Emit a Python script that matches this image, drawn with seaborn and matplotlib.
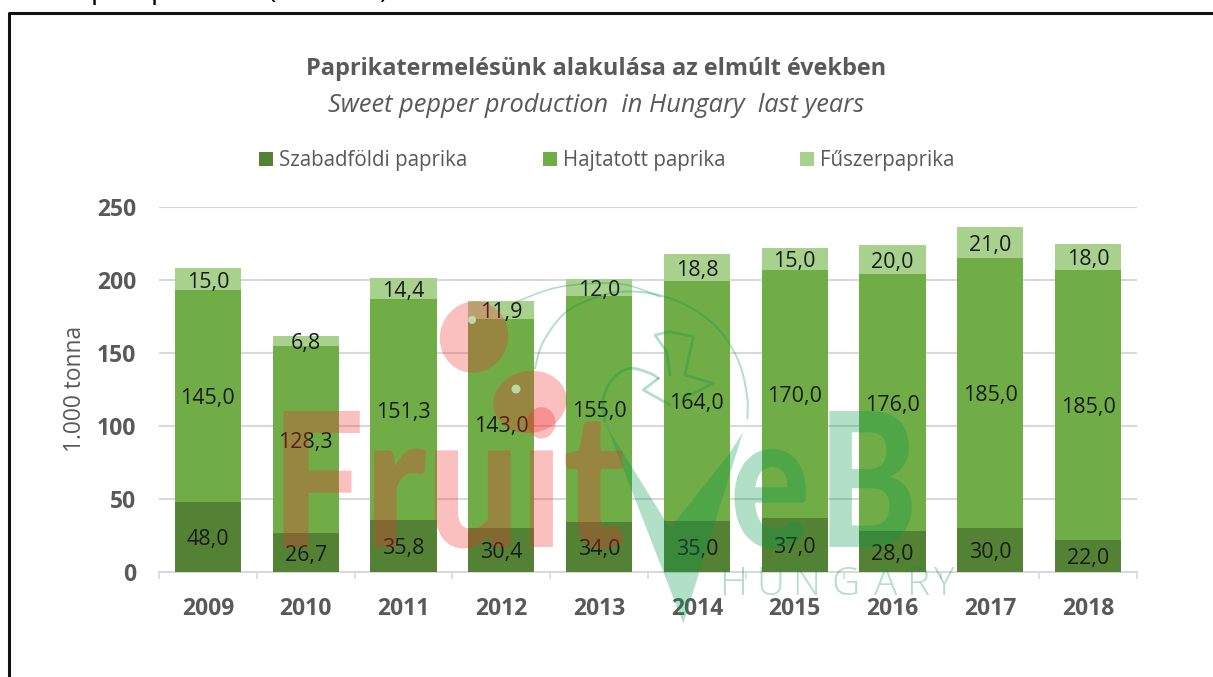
import numpy as np
import matplotlib
matplotlib.use('Agg')
import matplotlib.pyplot as plt
from matplotlib.patches import Ellipse, Polygon
from matplotlib.patheffects import AbstractPathEffect
from matplotlib.transforms import Affine2D
import seaborn as sns

# values (1000 t)
years = ['2009', '2010', '2011', '2012', '2013', '2014', '2015', '2016', '2017', '2018']
szabadfoldi = [48.0, 26.7, 35.8, 30.4, 34.0, 35.0, 37.0, 28.0, 30.0, 22.0]
hajtatott = [145.0, 128.3, 151.3, 143.0, 155.0, 164.0, 170.0, 176.0, 185.0, 185.0]
fuszer = [15.0, 6.8, 14.4, 11.9, 12.0, 18.8, 15.0, 20.0, 21.0, 18.0]

GREY = '#595959'
FONT = 'Open Sans'
W, H = 1213, 677


class Squeeze(AbstractPathEffect):
    # narrows a text horizontally, the logo lettering is condensed
    def __init__(self, sx):
        super().__init__()
        self.sx = sx

    def draw_path(self, renderer, gc, tpath, affine, rgbFace=None):
        ox, oy = affine.transform_point((0, 0))
        squeeze = Affine2D().translate(-ox, -oy).scale(self.sx, 1).translate(ox, oy)
        renderer.draw_path(gc, tpath, affine + squeeze, rgbFace)


sns.set_theme(style='white')
plt.rcParams['font.family'] = [FONT, 'DejaVu Sans']

fig = plt.figure(figsize=(W / 100, H / 100), dpi=100)
ax = fig.add_axes([159 / W, (H - 572) / H, 978 / W, 365 / H])

# stacked bars
bottom = np.zeros(len(years))
series = [('Szabadföldi paprika', szabadfoldi, '#548235'),
          ('Hajtatott paprika', hajtatott, '#70AD47'),
          ('Fűszerpaprika', fuszer, '#A9D18E')]
for name, vals, col in series:
    sns.barplot(x=years, y=vals, bottom=bottom, color=col, saturation=1,
                width=0.675, label=name, ax=ax, zorder=3, linewidth=0)
    labels = [f'{v:.1f}'.replace('.', ',') for v in vals]
    texts = ax.bar_label(ax.containers[-1], labels=labels, label_type='center',
                         fontsize=15.5, color='#1a1a1a', zorder=4)
    for t in texts:
        t.xyann = (0, -2)
    bottom = bottom + np.array(vals)

ax.set_xlim(-0.5, 9.5)
ax.set_ylim(0, 250)
ax.set_yticks([0, 50, 100, 150, 200, 250])
ax.grid(axis='y', color='#d9d9d9', lw=1.5, zorder=0)
ax.set_axisbelow(True)
for s in ['top', 'left', 'right']:
    ax.spines[s].set_visible(False)
ax.spines['bottom'].set_color('#d9d9d9')
ax.spines['bottom'].set_linewidth(1.5)

# ticks sit between the categories
ax.set_xticks(np.arange(-0.5, 10, 1), minor=True)
ax.tick_params(axis='x', which='minor', length=5, width=1.2, color='#d9d9d9', bottom=True)
ax.tick_params(axis='x', which='major', length=0, pad=18, labelsize=16.5, labelcolor=GREY)
ax.tick_params(axis='y', length=0, pad=16.5, labelsize=16.5, labelcolor=GREY)
for t in ax.get_xticklabels() + ax.get_yticklabels():
    t.set_fontweight('bold')
ax.set_ylabel('')
fig.text(75 / W, 1 - 389 / H, '1.000 tonna', rotation=90, ha='center', va='center',
         fontsize=16.4, color=GREY)

fig.text(596 / W, 1 - 69 / H, 'Paprikatermelésünk alakulása az elmúlt években',
         ha='center', va='center', fontsize=16.9, fontweight='bold', color=GREY)
fig.text(596 / W, 1 - 106 / H, 'Sweet pepper production  in Hungary  last years',
         ha='center', va='center', fontsize=18.3, style='italic', color=GREY)

ax.legend(ncol=3, loc='center', bbox_to_anchor=(607 / W, 1 - 160.5 / H),
          bbox_transform=fig.transFigure, frameon=False, fontsize=14.8, labelcolor=GREY,
          handlelength=0.68, handleheight=0.68, handletextpad=0.3, columnspacing=3.65)

# overlay in pixel coordinates: page frame and the watermark
ov = fig.add_axes([0, 0, 1, 1], zorder=10)
ov.axis('off')
ov.patch.set_alpha(0)

ov.plot([9, 9, W], [H, 13, 13], color='#111111', lw=2.2)
for x, ch in [(99, 'p'), (159, 'p'), (272, '('), (383, ')')]:
    ov.text(x, -2, ch, ha='center', va='baseline', fontsize=20, color='black', clip_on=False)

RED = '#F12D2D'
TEAL = '#009648'
A = 0.3
WM = 'Lato'

ov.add_patch(Ellipse((474, 337), 68, 72, angle=20, fc=RED, ec='none', alpha=A))
ov.add_patch(Ellipse((530, 402), 74, 62, angle=-10, fc=RED, ec='none', alpha=A))
ov.add_patch(Ellipse((472, 320), 8, 8, fc='#c8ecc0', ec='none', alpha=0.8))
ov.add_patch(Ellipse((516, 389), 9, 9, fc='#c8ecc0', ec='none', alpha=0.8))
for x, word, col, sx in [(271, 'Fruit', RED, 0.88), (730, 'e', TEAL, 0.8), (818, 'B', TEAL, 0.8)]:
    ov.text(x, 547, word, family=WM, fontweight=900, fontsize=135, color=col, alpha=A,
            ha='left', va='baseline', path_effects=[Squeeze(sx)])


def z6(pts):
    return np.array([(510 + a / 3, 275 + b / 3) for a, b in pts])


def smooth(pts, n=12):
    # Catmull-Rom through the outline points
    p = np.vstack([pts[0], pts, pts[-1]])
    out = []
    for i in range(1, len(p) - 2):
        for t in np.linspace(0, 1, n):
            out.append(0.5 * (2 * p[i] + (p[i + 1] - p[i - 1]) * t
                              + (2 * p[i - 1] - 5 * p[i] + 4 * p[i + 1] - p[i + 2]) * t ** 2
                              + (3 * p[i] - p[i - 1] - 3 * p[i + 1] + p[i + 2]) * t ** 3))
    return np.array(out)


ov.add_patch(Polygon(z6([(285, 440), (520, 1045), (712, 430), (700, 470), (655, 540),
                         (480, 760), (300, 470)]), fc=TEAL, ec='none', alpha=A))
curves = [
    ([(75, 280), (100, 200), (170, 110), (280, 60), (380, 50), (480, 70), (570, 115),
      (640, 180), (690, 270), (712, 370), (712, 430)], 1.4),
    ([(20, 80), (130, 40), (250, 25), (350, 30), (450, 65)], 1.2),
    ([(285, 440), (280, 370), (310, 310), (360, 280), (420, 295), (445, 310)], 2.0),
]
for pts, lw in curves:
    xy = smooth(z6(pts))
    ov.plot(xy[:, 0], xy[:, 1], color=TEAL, alpha=A, lw=lw)
corners = [
    [(445, 310), (400, 345), (480, 390)],
    [(480, 300), (470, 230), (435, 180), (480, 170), (550, 185), (525, 300), (610, 325),
     (520, 370)],
]
for pts in corners:
    xy = z6(pts)
    ov.plot(xy[:, 0], xy[:, 1], color=TEAL, alpha=A, lw=2.0)

for x, ch in zip([733, 770, 806, 846, 886, 918, 943], 'HUNGARY'):
    ov.text(x, 595, ch, family=FONT, fontweight=300, fontsize=28, color=TEAL, alpha=A,
            ha='center', va='baseline')

ov.set_xlim(0, W)
ov.set_ylim(H, 0)
fig.savefig('out.png', dpi=100)
